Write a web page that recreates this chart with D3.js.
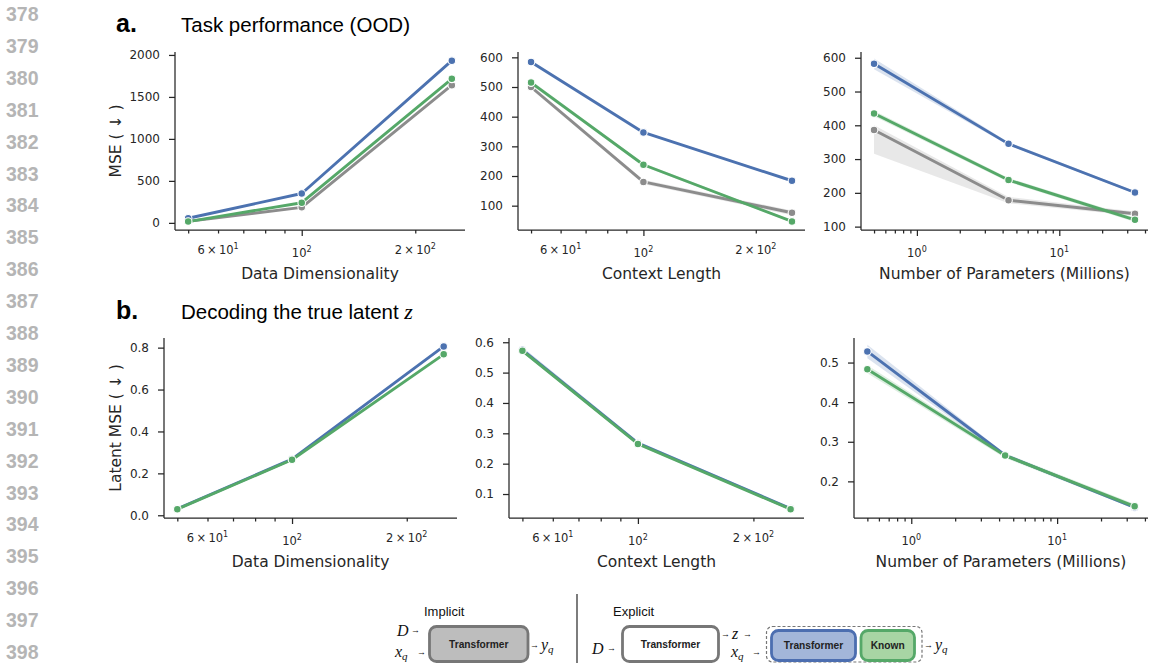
<!DOCTYPE html>
<html><head><meta charset="utf-8">
<script src="https://cdn.jsdelivr.net/npm/d3@7"></script>
<style>body{margin:0;background:#fff} svg{display:block}</style>
</head><body>
<svg id="c" width="1149" height="663"></svg>
<script>
// ---------------- data ----------------
const lineNumbers = d3.range(378, 399);
const dims = [50, 100, 250];
const ctxLens = [50, 100, 250];
const params = [0.5, 4.4, 34];

// a. Task performance (OOD) -- MSE
const mseDimImplicit = [18, 185, 1640];
const mseDimImplicitLo = [10, 175, 1625];
const mseDimImplicitHi = [26, 195, 1655];
const mseDimTransformer = [55, 350, 1932];
const mseDimTransformerLo = [50, 344, 1922];
const mseDimTransformerHi = [60, 356, 1942];
const mseDimKnown = [15, 240, 1715];
const mseDimKnownLo = [10, 234, 1705];
const mseDimKnownHi = [20, 246, 1725];

const mseCtxImplicit = [500, 180, 76];
const mseCtxImplicitLo = [493, 173, 68];
const mseCtxImplicitHi = [507, 187, 84];
const mseCtxTransformer = [584, 347, 184];
const mseCtxTransformerLo = [580, 344, 181];
const mseCtxTransformerHi = [588, 350, 187];
const mseCtxKnown = [515, 238, 47];
const mseCtxKnownLo = [508, 233, 43];
const mseCtxKnownHi = [522, 243, 51];

const mseParImplicit = [386, 178, 138];
const mseParImplicitLo = [316, 169, 132];
const mseParImplicitHi = [400, 188, 145];
const mseParTransformer = [582, 345, 201];
const mseParTransformerLo = [566, 341, 197];
const mseParTransformerHi = [598, 350, 205];
const mseParKnown = [435, 238, 120];
const mseParKnownLo = [427, 232, 114];
const mseParKnownHi = [443, 244, 126];

// b. Decoding the true latent z -- Latent MSE
const latDimTransformer = [0.031, 0.268, 0.806];
const latDimTransformerLo = [0.028, 0.264, 0.800];
const latDimTransformerHi = [0.034, 0.272, 0.812];
const latDimKnown = [0.029, 0.265, 0.768];
const latDimKnownLo = [0.026, 0.262, 0.763];
const latDimKnownHi = [0.032, 0.268, 0.773];

const latCtxTransformer = [0.575, 0.268, 0.052];
const latCtxTransformerLo = [0.566, 0.262, 0.048];
const latCtxTransformerHi = [0.584, 0.274, 0.056];
const latCtxKnown = [0.572, 0.265, 0.050];
const latCtxKnownLo = [0.567, 0.261, 0.047];
const latCtxKnownHi = [0.577, 0.269, 0.053];

const latParTransformer = [0.528, 0.266, 0.134];
const latParTransformerLo = [0.511, 0.262, 0.130];
const latParTransformerHi = [0.545, 0.270, 0.138];
const latParKnown = [0.483, 0.265, 0.137];
const latParKnownLo = [0.473, 0.259, 0.131];
const latParKnownHi = [0.493, 0.271, 0.143];

// tick labels
const yTicksMseDim = [0, 500, 1000, 1500, 2000];
const yTicksMseCtx = [100, 200, 300, 400, 500, 600];
const yTicksMsePar = [100, 200, 300, 400, 500, 600];
const yTicksLatDim = [0.0, 0.2, 0.4, 0.6, 0.8];
const yTicksLatCtx = [0.1, 0.2, 0.3, 0.4, 0.5, 0.6];
const yTicksLatPar = [0.2, 0.3, 0.4, 0.5];
const linMajorTicks = [100];
const linMinorTicks = [50, 60, 70, 80, 90, 200, 300];
const linTickLabels = [{v: 60, m: "6", e: "1"}, {v: 100, m: "", e: "2"}, {v: 200, m: "2", e: "2"}];
const parMajorTicks = [1, 10];
const parMinorTicks = [0.3, 0.4, 0.5, 0.6, 0.7, 0.8, 0.9, 2, 3, 4, 5, 6, 7, 8, 9, 20, 30, 40, 50];
const parTickLabels = [{v: 1, m: "", e: "0"}, {v: 10, m: "", e: "1"}];

// ---------------- style ----------------
const C = {implicit: "#8c8c8c", transformer: "#4c72b0", known: "#55a868"};
const INK = "#262626";
const svg = d3.select("#c");

// line numbers
svg.append("g").selectAll("text").data(lineNumbers).join("text")
  .attr("x", 6).attr("y", (d, i) => 21 + i * 31.9)
  .attr("font-family", "Liberation Sans, Arial, sans-serif")
  .attr("font-weight", "bold").attr("font-size", 19.5).attr("fill", "#b5b5b5")
  .text(d => d);

// titles
function title(y, letter, txt, mathz) {
  svg.append("text").attr("x", 116).attr("y", y)
    .attr("font-family", "Liberation Sans, Arial, sans-serif").attr("font-weight", "bold")
    .attr("font-size", 25).attr("fill", "#000").text(letter);
  const t = svg.append("text").attr("x", 181).attr("y", y)
    .attr("font-family", "Liberation Sans, Arial, sans-serif")
    .attr("font-size", 20.5).attr("fill", "#000").text(txt);
  if (mathz) t.append("tspan").attr("font-family", "Liberation Serif, serif")
    .attr("font-style", "italic").attr("font-size", 22).text(" z");
}
title(32, "a.", "Task performance (OOD)", false);
title(319, "b.", "Decoding the true latent", true);

function logDomain(xs) {
  const lo = Math.log10(d3.min(xs)), hi = Math.log10(d3.max(xs));
  const pad = 0.05 * (hi - lo);
  return [Math.pow(10, lo - pad), Math.pow(10, hi + pad)];
}

function panel(p) {
  const g = svg.append("g");
  const x = d3.scaleLog().domain(logDomain(p.xs)).range([p.x0, p.x1]);
  const y = d3.scaleLinear().domain(p.yDomain).range([p.y1, p.y0]);

  // bands, lines, markers
  p.series.forEach(s => {
    const pts = p.xs.map((v, i) => ({x: v, y: s.values[i], lo: s.lo[i], hi: s.hi[i]}));
    g.append("path").datum(pts)
      .attr("d", d3.area().x(d => x(d.x)).y0(d => y(d.lo)).y1(d => y(d.hi)))
      .attr("fill", s.color).attr("fill-opacity", 0.2).attr("stroke", "none");
    g.append("path").datum(pts)
      .attr("d", d3.line().x(d => x(d.x)).y(d => y(d.y)))
      .attr("fill", "none").attr("stroke", s.color).attr("stroke-width", 2.9)
      .attr("stroke-linecap", "round").attr("stroke-linejoin", "round");
    g.append("g").selectAll("circle").data(pts).join("circle")
      .attr("cx", d => x(d.x)).attr("cy", d => y(d.y)).attr("r", 3.8)
      .attr("fill", s.color).attr("stroke", "#fff").attr("stroke-width", 1.1);
  });

  // y axis
  const ya = g.append("g").attr("transform", `translate(${p.x0},0)`)
    .call(d3.axisLeft(y).tickValues(p.yTicks).tickSize(6).tickSizeOuter(0).tickPadding(9)
      .tickFormat(p.yFmt));
  ya.select(".domain").attr("d", `M0,${p.y0}V${p.y1}`);
  ya.selectAll("text").attr("font-family", "DejaVu Sans, sans-serif").attr("font-size", 12).attr("fill", INK);

  // x axis
  const dom = x.domain();
  const inDom = v => v >= dom[0] && v <= dom[1];
  const xaMin = g.append("g").attr("transform", `translate(0,${p.y1})`)
    .call(d3.axisBottom(x).tickValues(p.minor.filter(inDom)).tickSize(3.5).tickSizeOuter(0).tickFormat(""));
  xaMin.select(".domain").remove();
  const xaMaj = g.append("g").attr("transform", `translate(0,${p.y1})`)
    .call(d3.axisBottom(x).tickValues(p.major.filter(inDom)).tickSize(6).tickSizeOuter(0).tickFormat(""));
  xaMaj.select(".domain").attr("d", `M${p.x0},0H${p.x1}`);
  g.selectAll(".domain, .tick line").attr("stroke", INK).attr("stroke-width", 1.25);

  const lab = g.append("g").selectAll("text").data(p.labels.filter(d => inDom(d.v))).join("text")
    .attr("x", d => x(d.v)).attr("y", d => p.y1 + (d.m ? 24 : 27))
    .attr("text-anchor", "middle").attr("font-family", "DejaVu Sans, sans-serif")
    .attr("font-size", 11.5).attr("fill", INK);
  lab.append("tspan").text(d => d.m ? d.m + "\u2009\u00d7\u200910" : "10");
  lab.append("tspan").attr("dy", -5).attr("font-size", 8).text(d => d.e);

  // axis labels
  g.append("text").attr("x", (p.x0 + p.x1) / 2).attr("y", p.y1 + 49)
    .attr("text-anchor", "middle").attr("font-family", "DejaVu Sans, sans-serif")
    .attr("font-size", 15.5).attr("fill", INK).text(p.xLabel);
  if (p.yLabel) {
    g.append("text").attr("transform", `translate(121,${(p.y0 + p.y1) / 2}) rotate(-90)`)
      .attr("text-anchor", "middle").attr("font-family", "DejaVu Sans, sans-serif")
      .attr("font-size", 15.5).attr("fill", INK).text(p.yLabel);
  }
}

const ser = (color, values, lo, hi) => ({color, values, lo, hi});
const fInt = d3.format("d"), f1 = d3.format(".1f");

// Row a
panel({x0: 175, x1: 465, y0: 52, y1: 230, xs: dims, yDomain: [-85, 2035], yTicks: yTicksMseDim, yFmt: fInt,
  major: linMajorTicks, minor: linMinorTicks, labels: linTickLabels, xLabel: "Data Dimensionality", yLabel: "MSE ( \u2193 )",
  series: [ser(C.implicit, mseDimImplicit, mseDimImplicitLo, mseDimImplicitHi),
           ser(C.transformer, mseDimTransformer, mseDimTransformerLo, mseDimTransformerHi),
           ser(C.known, mseDimKnown, mseDimKnownLo, mseDimKnownHi)]});
panel({x0: 518, x1: 805, y0: 52, y1: 230, xs: ctxLens, yDomain: [18, 618], yTicks: yTicksMseCtx, yFmt: fInt,
  major: linMajorTicks, minor: linMinorTicks, labels: linTickLabels, xLabel: "Context Length",
  series: [ser(C.implicit, mseCtxImplicit, mseCtxImplicitLo, mseCtxImplicitHi),
           ser(C.transformer, mseCtxTransformer, mseCtxTransformerLo, mseCtxTransformerHi),
           ser(C.known, mseCtxKnown, mseCtxKnownLo, mseCtxKnownHi)]});
panel({x0: 861, x1: 1148, y0: 52, y1: 230, xs: params, yDomain: [90, 617], yTicks: yTicksMsePar, yFmt: fInt,
  major: parMajorTicks, minor: parMinorTicks, labels: parTickLabels, xLabel: "Number of Parameters (Millions)",
  series: [ser(C.implicit, mseParImplicit, mseParImplicitLo, mseParImplicitHi),
           ser(C.transformer, mseParTransformer, mseParTransformerLo, mseParTransformerHi),
           ser(C.known, mseParKnown, mseParKnownLo, mseParKnownHi)]});
// Row b
panel({x0: 164, x1: 457, y0: 338, y1: 518, xs: dims, yDomain: [-0.013, 0.846], yTicks: yTicksLatDim, yFmt: f1,
  major: linMajorTicks, minor: linMinorTicks, labels: linTickLabels, xLabel: "Data Dimensionality", yLabel: "Latent MSE ( \u2193 )",
  series: [ser(C.transformer, latDimTransformer, latDimTransformerLo, latDimTransformerHi),
           ser(C.known, latDimKnown, latDimKnownLo, latDimKnownHi)]});
panel({x0: 509, x1: 804, y0: 338, y1: 518, xs: ctxLens, yDomain: [0.021, 0.614], yTicks: yTicksLatCtx, yFmt: f1,
  major: linMajorTicks, minor: linMinorTicks, labels: linTickLabels, xLabel: "Context Length",
  series: [ser(C.transformer, latCtxTransformer, latCtxTransformerLo, latCtxTransformerHi),
           ser(C.known, latCtxKnown, latCtxKnownLo, latCtxKnownHi)]});
panel({x0: 854, x1: 1148, y0: 338, y1: 518, xs: params, yDomain: [0.1075, 0.562], yTicks: yTicksLatPar, yFmt: f1,
  major: parMajorTicks, minor: parMinorTicks, labels: parTickLabels, xLabel: "Number of Parameters (Millions)",
  series: [ser(C.transformer, latParTransformer, latParTransformerLo, latParTransformerHi),
           ser(C.known, latParKnown, latParKnownLo, latParKnownHi)]});

// ---------------- bottom diagram (legend) ----------------
const dg = svg.append("g");
const SANS = "Liberation Sans, Arial, sans-serif", SERIF = "Liberation Serif, Times New Roman, serif";
function box(x, y, w, h, fill, stroke, label, sw) {
  dg.append("rect").attr("x", x).attr("y", y).attr("width", w).attr("height", h).attr("rx", 7)
    .attr("fill", fill).attr("stroke", stroke).attr("stroke-width", sw || 2.8);
  if (label) dg.append("text").attr("x", x + w / 2).attr("y", y + h / 2 + 3.6).attr("text-anchor", "middle")
    .attr("font-family", SANS).attr("font-weight", "bold").attr("font-size", 10.2).attr("fill", "#222").text(label);
}
function math(x, y, v, sub) {
  const t = dg.append("text").attr("x", x).attr("y", y).attr("font-family", SERIF)
    .attr("font-style", "italic").attr("font-size", 16).attr("fill", "#111").text(v);
  if (sub) t.append("tspan").attr("dy", 3).attr("font-size", 11).text(sub);
}
function arrow(x, y) {
  dg.append("text").attr("x", x).attr("y", y).attr("font-family", SANS).attr("font-size", 9)
    .attr("fill", "#111").text("\u2192");
}
function txt(x, y, s) {
  dg.append("text").attr("x", x).attr("y", y).attr("font-family", SANS).attr("font-size", 13)
    .attr("fill", "#111").text(s);
}
// implicit
txt(424, 616, "Implicit");
math(397, 636, "D"); arrow(411, 633);
math(395, 657, "x", "q"); arrow(417, 655);
box(429.5, 626.5, 98.5, 35, "#bdbdbd", "#777", "Transformer");
arrow(530, 648); math(541, 650, "y", "q");
dg.append("line").attr("x1", 577).attr("x2", 577).attr("y1", 594).attr("y2", 663)
  .attr("stroke", "#111").attr("stroke-width", 1.1);
// explicit
txt(613, 616, "Explicit");
math(592, 654, "D"); arrow(607, 651);
box(622.5, 626.5, 96, 35, "#fff", "#777", "Transformer");
arrow(721, 637); math(732, 639, "z"); arrow(743, 637);
math(731, 657, "x", "q"); arrow(752, 655);
dg.append("rect").attr("x", 766.5).attr("y", 626.5).attr("width", 155.5).attr("height", 35.5).attr("rx", 6)
  .attr("fill", "none").attr("stroke", "#777").attr("stroke-width", 1.2).attr("stroke-dasharray", "3,2");
box(771.5, 630.5, 84, 30, "#a3b6d9", "#4c6eb0", "Transformer");
box(861, 630.5, 53.5, 30, "#a8d5a4", "#55a868", "Known");
arrow(924, 648); math(935, 650, "y", "q");
</script>
</body></html>
